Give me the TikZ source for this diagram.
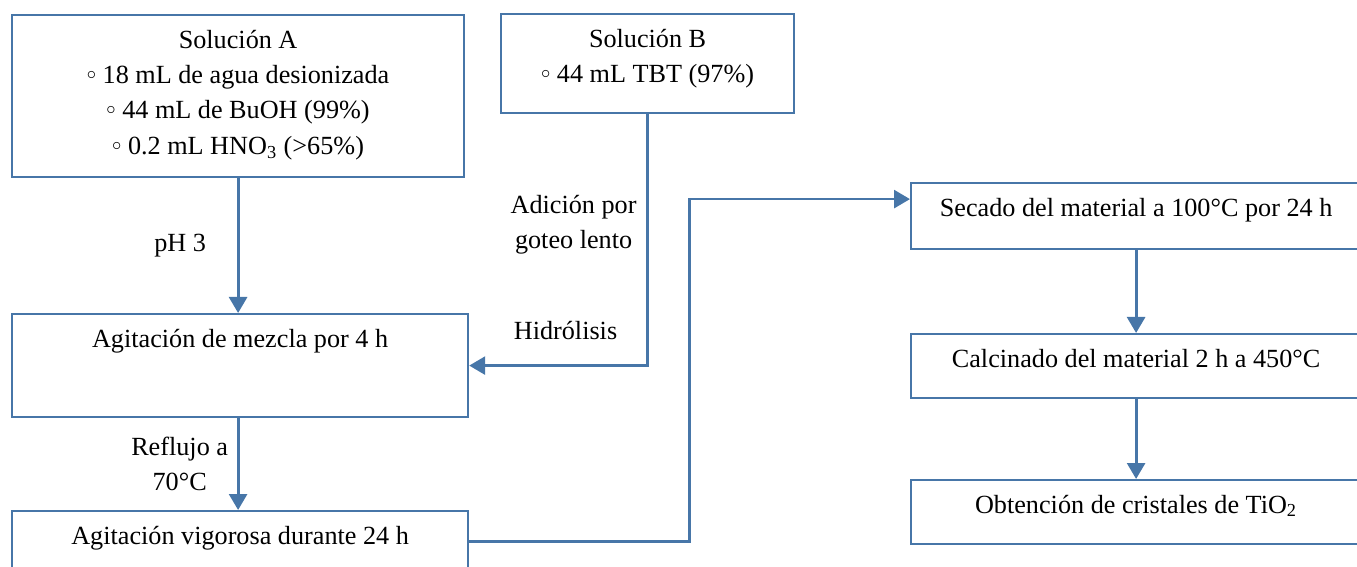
\documentclass[tikz,border=0pt]{standalone}
\usepackage{fontspec}
\setmainfont{Liberation Serif}
\usepackage{tikz}
\usetikzlibrary{arrows.meta,positioning,calc}
\definecolor{lineblue}{HTML}{4776A8}
\newcommand{\itm}{\raisebox{0.35ex}{$\scriptstyle\circ$}}
\tikzset{font=\fontsize{13.1}{17.7}\selectfont}
\tikzset{procbox/.style={draw=lineblue, line width=1.1pt, anchor=north west,
    align=center, inner ysep=0pt, text height=16.5pt}}
\tikzset{flow/.style={draw=lineblue, line width=1.4pt,
    -{Triangle[length=8pt,width=9pt]}}}

\begin{document}
\begin{tikzpicture}[x=0.5pt,y=-0.5pt]
  \clip (0,0) rectangle (1357,567);

  % left column
  \node[procbox, minimum width=226pt, text height=69.6pt, text depth=11.4pt] (solA) at (11,14)
    {Soluci\'on A\\ \itm{} 18 mL de agua desionizada\\ \itm{} 44 mL de BuOH (99\%)\\
     \itm{} 0.2 mL HNO\textsubscript{3} (>65\%)};
  \node[procbox, minimum width=146.5pt, text height=34.2pt, text depth=15.3pt] (solB) at (500,13)
    {Soluci\'on B\\ \itm{} 44 mL TBT (97\%)};
  \node[procbox, minimum width=228pt, text depth=35pt] (agit) at (11,313)
    {Agitaci\'on de mezcla por 4 h};
  \node[procbox, minimum width=228pt, text depth=35pt] (agitv) at (11,510)
    {Agitaci\'on vigorosa durante 24 h};

  % right column
  \node[procbox, minimum width=225pt, text depth=16.5pt] (secado) at (910,182)
    {Secado del material a 100°C por 24 h};
  \node[procbox, minimum width=225pt, text depth=15.5pt] (calc) at (910,333)
    {Calcinado del material 2 h a 450°C};
  \node[procbox, minimum width=225pt, text depth=15.5pt] (obt) at (910,479)
    {Obtenci\'on de cristales de TiO\textsubscript{2}};

  \draw[flow] (solA.south) -- (solA.south |- agit.north)
    node[midway, left=12pt] {pH 3};
  \draw[flow] (solB.south) |- (agit.east)
    node[pos=0.22, left=1.5pt, align=center] {Adici\'on por\\ goteo lento}
    node[pos=0.73, above=9pt] {Hidr\'olisis};
  \draw[flow] (agit.south -| solA.south) -- (solA.south |- agitv.north)
    node[midway, left=1pt, align=center] {Reflujo a\\ 70°C};

  \coordinate (out) at ([yshift=10.75pt]agitv.east);
  \coordinate (in) at ([yshift=8.5pt]secado.west);
  \draw[flow] (out) -| ($(out)!.5!(in)$) |- (in);

  \draw[flow] (secado.south) -- (calc.north);
  \draw[flow] (calc.south) -- (obt.north);
\end{tikzpicture}
\end{document}
